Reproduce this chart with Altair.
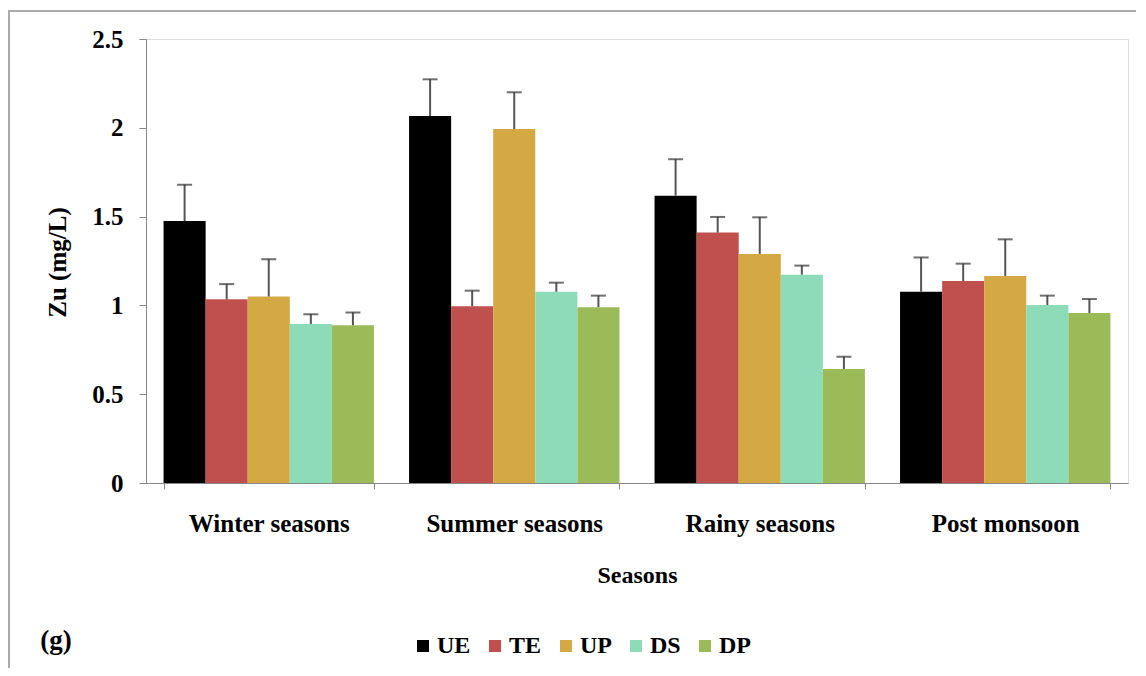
import altair as alt
import pandas as pd

seasons = ["Winter seasons", "Summer seasons", "Rainy seasons", "Post monsoon"]
groups = ["UE", "TE", "UP", "DS", "DP"]
colors = ["#000000", "#C0504D", "#D4A843", "#8DDBB8", "#9BBB59"]

ue = [1.475, 2.066, 1.618, 1.077]
ue_sd = [0.205, 0.207, 0.205, 0.193]
te = [1.034, 0.995, 1.41, 1.137]
te_sd = [0.086, 0.088, 0.088, 0.098]
up = [1.05, 1.993, 1.29, 1.166]
up_sd = [0.21, 0.207, 0.206, 0.206]
ds = [0.895, 1.077, 1.173, 1.002]
ds_sd = [0.055, 0.051, 0.051, 0.053]
dp = [0.888, 0.99, 0.642, 0.957]
dp_sd = [0.072, 0.065, 0.069, 0.079]

series = {"UE": (ue, ue_sd), "TE": (te, te_sd), "UP": (up, up_sd),
          "DS": (ds, ds_sd), "DP": (dp, dp_sd)}

rows = []
for g in groups:
    vals, sds = series[g]
    for s, v, sd in zip(seasons, vals, sds):
        rows.append({"season": s, "group": g, "value": v, "top": v + sd})
df = pd.DataFrame(rows)

FONT = "Liberation Serif"

x = alt.X("season:N", sort=seasons, title="Seasons",
          scale=alt.Scale(paddingInner=0.143, paddingOuter=0.0715),
          axis=alt.Axis(labelAngle=0, labelFontSize=25, labelFont=FONT, labelFontWeight="bold",
                        labelColor="#000", labelPadding=22, tickBand="extent", tickSize=6,
                        tickColor="#888", domainColor="#888", titleFontSize=24, titleFont=FONT,
                        titleFontWeight="bold", titleColor="#000", titleY=92,
                        titleBaseline="middle"))
xoff = alt.XOffset("group:N", sort=groups, scale=alt.Scale(paddingInner=0, paddingOuter=0))

base = alt.Chart(df)

bars = base.mark_bar().encode(
    x=x, xOffset=xoff,
    y=alt.Y("value:Q", title="Zu (mg/L)",
            scale=alt.Scale(domain=[0, 2.5], nice=False),
            axis=alt.Axis(values=[0, 0.5, 1, 1.5, 2, 2.5], format="~g", grid=False,
                          labelFontSize=25, labelFont=FONT, labelFontWeight="bold",
                          labelColor="#000", labelPadding=16, tickSize=7, tickColor="#888",
                          domainColor="#888", titleFontSize=25, titleFont=FONT,
                          titleFontWeight="bold", titleColor="#000", titleX=-89, titleY=223,
                          titleAlign="center", titleBaseline="middle")),
    color=alt.Color("group:N", sort=groups,
                    scale=alt.Scale(domain=groups, range=colors),
                    legend=alt.Legend(title=None, orient="none", direction="horizontal",
                                      legendX=265, legendY=595, symbolType="square",
                                      symbolSize=144, symbolStrokeWidth=0, labelFontSize=24,
                                      labelFont=FONT, labelFontWeight="bold", labelColor="#000",
                                      columnPadding=12, labelOffset=2)),
)

err = base.mark_rule(color="#555555", strokeWidth=2).encode(
    x=x, xOffset=xoff, y="value:Q", y2="top:Q")

cap = base.mark_tick(color="#333333", thickness=2, size=15).encode(
    x=x, xOffset=xoff, y="top:Q")

label_g = alt.Chart(pd.DataFrame({"t": ["(g)"]})).mark_text(
    font=FONT, fontWeight="bold", fontSize=27, color="#000", align="center",
    baseline="middle").encode(text="t:N", x=alt.value(-90), y=alt.value(602))

border = alt.Chart(pd.DataFrame({"t": [0]})).mark_rect(
    fill="transparent", stroke="#aaaaaa", strokeWidth=2).encode(
    x=alt.value(-137), x2=alt.value(1010), y=alt.value(-28), y2=alt.value(700))

chart = alt.layer(border, bars, err, cap, label_g).properties(
    width=982, height=444,
    autosize=alt.AutoSizeParams(type="none"),
    padding={"left": 138, "top": 31, "right": 8, "bottom": 185},
).configure_view(stroke="transparent").configure(background="white")

chart.save("out.html", embed_options={"renderer": "svg", "actions": False})
